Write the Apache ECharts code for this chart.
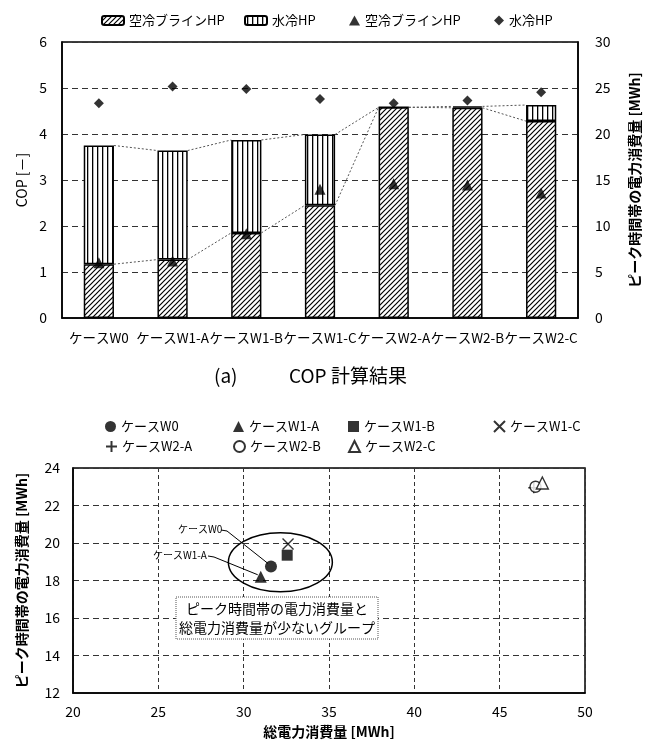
<!DOCTYPE html>
<html>
<head>
<meta charset="utf-8">
<script src="https://cdn.jsdelivr.net/npm/echarts@6.0.0/dist/echarts.min.js"></script>
<style>
  html, body { margin: 0; padding: 0; background: #fff; }
  #main { width: 654px; height: 744px; }
</style>
</head>
<body>
<div id="main"></div>
<script>
  // ケース名（上下のグラフ共通）
  var categories = ['ケースW0', 'ケースW1-A', 'ケースW1-B', 'ケースW1-C', 'ケースW2-A', 'ケースW2-B', 'ケースW2-C'];

  // (a) ピーク時間帯の電力消費量 [MWh]（積上げ棒）
  var airPeak = [5.85, 6.35, 9.25, 12.25, 22.9, 22.85, 21.4];
  var waterPeak = [12.9, 11.85, 10.1, 7.7, 0, 0.15, 1.75];

  // (a) COP [-]（マーカー）
  var airCop = [1.2, 1.24, 1.83, 2.8, 2.92, 2.89, 2.72];
  var waterCop = [4.67, 5.03, 4.98, 4.76, 4.67, 4.73, 4.91];

  // 下の散布図：総電力消費量 / ピーク時間帯の電力消費量 [MWh]
  var totalEnergy = [31.6, 31.0, 32.55, 32.6, 47.0, 47.1, 47.5];
  var peakEnergy = [18.75, 18.2, 19.35, 19.95, 22.95, 23.0, 23.2];

  var FONT = "'Noto Sans CJK JP', 'Noto Sans', sans-serif";

  // ハッチング用のパターン
  function makePattern(kind) {
    var c = document.createElement('canvas');
    var ctx;
    if (kind === 'diag') {
      c.width = 5; c.height = 5;
      ctx = c.getContext('2d');
      ctx.fillStyle = '#fff';
      ctx.fillRect(0, 0, 5, 5);
      ctx.strokeStyle = '#000';
      ctx.lineWidth = 1.2;
      ctx.beginPath();
      ctx.moveTo(0, 5); ctx.lineTo(5, 0);
      ctx.moveTo(-1, 1); ctx.lineTo(1, -1);
      ctx.moveTo(4, 6); ctx.lineTo(6, 4);
      ctx.stroke();
    } else {
      c.width = 5; c.height = 4;
      ctx = c.getContext('2d');
      ctx.fillStyle = '#fff';
      ctx.fillRect(0, 0, 5, 4);
      ctx.fillStyle = '#000';
      ctx.fillRect(2, 0, 1.3, 4);
    }
    return { image: c, repeat: 'repeat' };
  }
  var hatchDiag = makePattern('diag');
  var hatchVert = makePattern('vert');

  var BAR_RATIO = 0.41;

  // 棒と棒をつなぐ区分線のデータ
  var seriesLineData = [];
  for (var i = 0; i < categories.length - 1; i++) {
    seriesLineData.push([i, airPeak[i], airPeak[i] + waterPeak[i], airPeak[i + 1], airPeak[i + 1] + waterPeak[i + 1]]);
  }

  var scatterSymbols = [
    { symbol: 'circle', size: 12, fill: '#000' },
    { symbol: 'triangle', size: 12, fill: '#000' },
    { symbol: 'rect', size: 11, fill: '#000' },
    { symbol: 'path://M0,0L10,10M10,0L0,10', size: 11, fill: 'transparent' },
    { symbol: 'path://M5,0L5,10M0,5L10,5', size: 11, fill: 'transparent' },
    { symbol: 'circle', size: 11, fill: '#fff' },
    { symbol: 'triangle', size: 12, fill: '#fff' }
  ];
  var legendPos = [[100, 415], [228, 415], [343, 415], [488, 415], [100, 435], [228, 435], [343, 435]];

  var myChart = echarts.init(document.getElementById('main'));

  var labelStyle = { color: '#000', fontFamily: FONT, fontSize: 14 };
  var dashLine = { lineStyle: { color: '#333', type: [6, 4], width: 1 } };

  var series = [
    {
      name: '空冷ブラインHP',
      type: 'bar',
      xAxisIndex: 0, yAxisIndex: 1,
      stack: 'peak',
      barWidth: (BAR_RATIO * 100) + '%',
      data: airPeak,
      itemStyle: { color: hatchDiag, borderColor: '#000', borderWidth: 1.5 }
    },
    {
      name: '水冷HP',
      type: 'bar',
      xAxisIndex: 0, yAxisIndex: 1,
      stack: 'peak',
      barWidth: (BAR_RATIO * 100) + '%',
      data: waterPeak,
      itemStyle: { color: hatchVert, borderColor: '#000', borderWidth: 1.5 }
    },
    {
      type: 'custom',
      xAxisIndex: 0, yAxisIndex: 1,
      z: 3,
      silent: true,
      encode: { x: 0, y: [1, 2, 3, 4] },
      data: seriesLineData,
      renderItem: function (params, api) {
        var idx = api.value(0);
        var half = api.size([1, 0])[0] * BAR_RATIO / 2;
        var a0 = api.coord([idx, api.value(1)]);
        var t0 = api.coord([idx, api.value(2)]);
        var a1 = api.coord([idx + 1, api.value(3)]);
        var t1 = api.coord([idx + 1, api.value(4)]);
        var st = { stroke: '#555', lineWidth: 1, lineDash: [2, 2] };
        return {
          type: 'group',
          children: [
            { type: 'line', shape: { x1: a0[0] + half, y1: a0[1], x2: a1[0] - half, y2: a1[1] }, style: st },
            { type: 'line', shape: { x1: t0[0] + half, y1: t0[1], x2: t1[0] - half, y2: t1[1] }, style: st }
          ]
        };
      }
    },
    {
      name: '空冷ブラインHP ',
      type: 'scatter',
      xAxisIndex: 0, yAxisIndex: 0,
      symbol: 'triangle',
      symbolSize: 11,
      data: airCop,
      itemStyle: { color: '#000' },
      z: 4
    },
    {
      name: '水冷HP ',
      type: 'scatter',
      xAxisIndex: 0, yAxisIndex: 0,
      symbol: 'diamond',
      symbolSize: 10,
      data: waterCop,
      itemStyle: { color: '#000' },
      z: 4
    }
  ];

  categories.forEach(function (name, k) {
    var s = scatterSymbols[k];
    series.push({
      name: name,
      type: 'scatter',
      xAxisIndex: 1, yAxisIndex: 2,
      symbol: s.symbol,
      symbolSize: s.size,
      data: [[totalEnergy[k], peakEnergy[k]]],
      itemStyle: { color: s.fill, borderColor: '#000', borderWidth: s.fill === '#000' ? 0 : 1.4 },
      z: 4
    });
  });

  var legends = [
    { data: ['空冷ブラインHP'], left: 96, top: 9, itemWidth: 22, itemHeight: 9 },
    { data: ['水冷HP'], left: 239, top: 9, itemWidth: 22, itemHeight: 9 },
    { data: ['空冷ブラインHP '], left: 344, top: 9, itemWidth: 11, itemHeight: 10 },
    { data: ['水冷HP '], left: 489, top: 9, itemWidth: 10, itemHeight: 10 }
  ];
  categories.forEach(function (name, k) {
    legends.push({ data: [name], left: legendPos[k][0], top: legendPos[k][1], itemWidth: 11, itemHeight: 11 });
  });
  legends.forEach(function (lg) {
    lg.itemGap = 4;
    lg.textStyle = { color: '#000', fontFamily: FONT, fontSize: 13 };
    lg.selectedMode = false;
  });

  var option = {
    animation: false,
    backgroundColor: '#fff',
    textStyle: { fontFamily: FONT },
    legend: legends,
    grid: [
      { left: 62, right: 76, top: 42, height: 276, show: true, borderColor: '#000', borderWidth: 1.5, backgroundColor: 'transparent' },
      { left: 73, right: 69, top: 468, height: 225, show: true, borderColor: '#000', borderWidth: 1.5, backgroundColor: 'transparent' }
    ],
    xAxis: [
      {
        gridIndex: 0,
        type: 'category',
        data: categories,
        axisLine: { lineStyle: { color: '#000', width: 1.5 } },
        axisTick: { show: false },
        axisLabel: { interval: 0, margin: 13, color: '#000', fontFamily: FONT, fontSize: 13.5 }
      },
      {
        gridIndex: 1,
        type: 'value',
        min: 20, max: 50, interval: 5,
        name: '総電力消費量 [MWh]',
        nameLocation: 'middle',
        nameGap: 32,
        nameTextStyle: { color: '#000', fontFamily: FONT, fontSize: 14, fontWeight: 'bold' },
        axisLine: { lineStyle: { color: '#000', width: 1.5 } },
        axisTick: { show: false },
        axisLabel: Object.assign({ margin: 12 }, labelStyle),
        splitLine: { lineStyle: { color: '#333', type: [4, 3], width: 1 } }
      }
    ],
    yAxis: [
      {
        gridIndex: 0,
        type: 'value',
        min: 0, max: 6, interval: 1,
        name: 'COP [－]',
        nameLocation: 'middle',
        nameRotate: 90,
        nameGap: 32,
        nameTextStyle: { color: '#000', fontFamily: FONT, fontSize: 14 },
        axisLine: { show: true, lineStyle: { color: '#000', width: 1.5 } },
        axisTick: { show: false },
        axisLabel: Object.assign({ margin: 15 }, labelStyle),
        splitLine: dashLine
      },
      {
        gridIndex: 0,
        type: 'value',
        position: 'right',
        min: 0, max: 30, interval: 5,
        name: 'ピーク時間帯の電力消費量 [MWh]',
        nameLocation: 'middle',
        nameRotate: 90,
        nameGap: 50,
        nameTextStyle: { color: '#000', fontFamily: FONT, fontSize: 14, fontWeight: 'bold' },
        axisLine: { show: true, lineStyle: { color: '#000', width: 1.5 } },
        axisTick: { show: false },
        axisLabel: Object.assign({ margin: 17 }, labelStyle),
        splitLine: { show: false }
      },
      {
        gridIndex: 1,
        type: 'value',
        min: 12, max: 24, interval: 2,
        name: 'ピーク時間帯の電力消費量 [MWh]',
        nameLocation: 'middle',
        nameRotate: 90,
        nameGap: 44,
        nameTextStyle: { color: '#000', fontFamily: FONT, fontSize: 14, fontWeight: 'bold' },
        axisLine: { show: true, lineStyle: { color: '#000', width: 1.5 } },
        axisTick: { show: false },
        axisLabel: Object.assign({ margin: 13 }, labelStyle),
        splitLine: dashLine
      }
    ],
    series: series
  };

  myChart.setOption(option);

  // 注記（楕円・引出し線・説明枠）を散布図の座標から配置
  var w0 = myChart.convertToPixel({ gridIndex: 1 }, [totalEnergy[0], peakEnergy[0]]);
  var w1a = myChart.convertToPixel({ gridIndex: 1 }, [totalEnergy[1], peakEnergy[1]]);
  var ellC = myChart.convertToPixel({ gridIndex: 1 }, [32.15, 18.97]);

  myChart.setOption({
    graphic: [
      {
        type: 'text', x: 214, y: 366,
        style: { text: '(a)', fill: '#000', font: '19px ' + FONT }
      },
      {
        type: 'text', x: 289, y: 366,
        style: { text: 'COP 計算結果', fill: '#000', font: '19px ' + FONT }
      },
      {
        type: 'ellipse', z: 10,
        shape: { cx: ellC[0], cy: ellC[1], rx: 52, ry: 29.5 },
        style: { fill: 'none', stroke: '#000', lineWidth: 1.5 }
      },
      {
        type: 'text', z: 10, x: 178, y: 524,
        style: { text: 'ケースW0', fill: '#000', font: '10px ' + FONT }
      },
      {
        type: 'polyline', z: 10,
        shape: { points: [[221, 530], [227, 531], [w0[0] - 3, w0[1] - 3]] },
        style: { stroke: '#000', lineWidth: 1, fill: 'none' }
      },
      {
        type: 'text', z: 10, x: 153, y: 550,
        style: { text: 'ケースW1-A', fill: '#000', font: '10px ' + FONT }
      },
      {
        type: 'polyline', z: 10,
        shape: { points: [[208, 556], [214, 557], [w1a[0] - 3, w1a[1] - 2]] },
        style: { stroke: '#000', lineWidth: 1, fill: 'none' }
      },
      {
        type: 'rect', z: 10,
        shape: { x: 176, y: 597, width: 202, height: 42 },
        style: { fill: '#fff', stroke: '#555', lineWidth: 1, lineDash: [1, 1] }
      },
      {
        type: 'text', z: 11, x: 277, y: 618,
        style: {
          text: 'ピーク時間帯の電力消費量と\n総電力消費量が少ないグループ',
          fill: '#000', font: '14px ' + FONT, align: 'center', verticalAlign: 'middle', lineHeight: 19
        }
      }
    ]
  });
</script>
</body>
</html>
